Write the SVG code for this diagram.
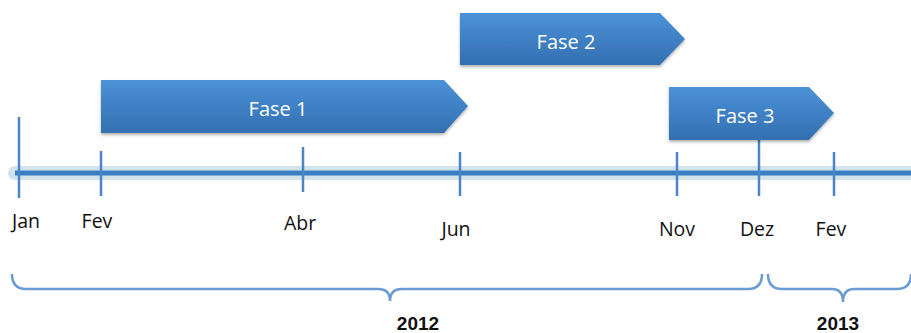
<svg xmlns="http://www.w3.org/2000/svg" width="911" height="333" viewBox="0 0 911 333">
<style>
.lbl{font-family:"Open Sans","Liberation Sans",sans-serif;font-size:19.5px;fill:#111;text-anchor:middle}
.fase{font-family:"Open Sans","Liberation Sans",sans-serif;font-size:20px;fill:#fff;text-anchor:middle}
.yr{font-family:"Liberation Sans Narrow","Liberation Sans",sans-serif;font-size:19px;font-weight:bold;fill:#111;text-anchor:middle}
.tick{stroke:#4a86c5;stroke-width:2.5}
.brace{fill:none;stroke:#6a9bd2;stroke-width:2.5}
</style>
<defs>
<linearGradient id="g" x1="0" y1="0" x2="0" y2="1">
<stop offset="0" stop-color="#4b92d8"/>
<stop offset="1" stop-color="#336fb0"/>
</linearGradient>
<filter id="sh" x="-10%" y="-20%" width="120%" height="150%">
<feDropShadow dx="0" dy="2" stdDeviation="1.5" flood-color="#000" flood-opacity="0.3"/>
</filter>
</defs>
<g id="timeline">
<line x1="15" y1="173" x2="911" y2="173" stroke="#d3e3ec" stroke-width="14" stroke-linecap="round"/>
<line x1="15" y1="173" x2="911" y2="173" stroke="#3b7fc2" stroke-width="5"/>
</g>
<g id="connectors">
<line class="tick" x1="19" y1="117" x2="19" y2="198"/>
<line class="tick" x1="101" y1="151" x2="101" y2="196"/>
<line class="tick" x1="303" y1="147" x2="303" y2="192"/>
<line class="tick" x1="460" y1="152" x2="460" y2="196"/>
<line class="tick" x1="677" y1="152" x2="677" y2="196"/>
<line class="tick" x1="759" y1="140" x2="759" y2="196"/>
<line class="tick" x1="834" y1="152" x2="834" y2="196"/>
</g>
<g id="fase1"><polygon points="101,80 444,80 468,106 444,133 101,133" fill="url(#g)" filter="url(#sh)"/><text class="fase" x="278" y="116">Fase 1</text></g>
<g id="fase2"><polygon points="460,13 660,13 685,39 660,65 460,65" fill="url(#g)" filter="url(#sh)"/><text class="fase" x="566" y="49">Fase 2</text></g>
<g id="fase3"><polygon points="669,87 809,87 834,113 809,140 669,140" fill="url(#g)" filter="url(#sh)"/><text class="fase" x="745" y="123">Fase 3</text></g>
<g id="months">
<text class="lbl" x="26" y="228">Jan</text>
<text class="lbl" x="97" y="228">Fev</text>
<text class="lbl" x="300" y="230">Abr</text>
<text class="lbl" x="456" y="236">Jun</text>
<text class="lbl" x="677" y="236">Nov</text>
<text class="lbl" x="757" y="236">Dez</text>
<text class="lbl" x="831" y="236">Fev</text>
</g>
<g id="brace2012"><path class="brace" d="M12,274 Q12,289 26,289 L378,289 Q390,289 390,301 Q390,289 402,289 L748,289 Q762,289 762,274"/><text class="yr" x="418" y="330">2012</text></g>
<g id="brace2013"><path class="brace" d="M768,274 Q768,289 782,289 L832,289 Q843,289 843,302 Q843,289 854,289 L897,289 Q911,289 911,274"/><text class="yr" x="838" y="330">2013</text></g>
</svg>
